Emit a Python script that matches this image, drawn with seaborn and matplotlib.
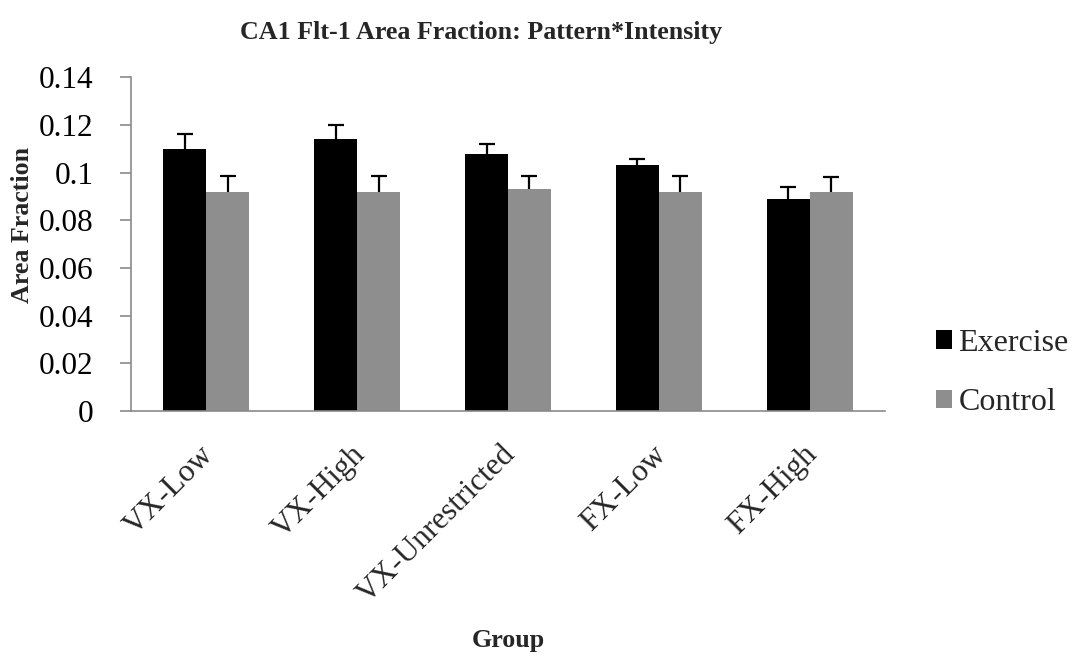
import matplotlib
matplotlib.use("Agg")
import matplotlib.pyplot as plt
import matplotlib.transforms as mtransforms
import seaborn as sns
import pandas as pd
import numpy as np

groups = ["VX-Low", "VX-High", "VX-Unrestricted", "FX-Low", "FX-High"]
exercise = [0.110, 0.114, 0.108, 0.103, 0.089]
control = [0.092, 0.092, 0.093, 0.092, 0.092]
exercise_err = [0.0064, 0.0061, 0.0041, 0.0028, 0.0050]
control_err = [0.0067, 0.0064, 0.0057, 0.0066, 0.0063]
series = ["Exercise", "Control"]
yticks = [0, 0.02, 0.04, 0.06, 0.08, 0.1, 0.12, 0.14]
ytick_labels = ["0", "0.02", "0.04", "0.06", "0.08", "0.1", "0.12", "0.14"]

sns.set_theme(style="white")
plt.rcParams["font.family"] = ["Liberation Serif", "DejaVu Serif"]

df = pd.DataFrame({
    "Group": groups * 2,
    "Series": ["Exercise"] * len(groups) + ["Control"] * len(groups),
    "Value": exercise + control,
})
errs = {"Exercise": exercise_err, "Control": control_err}

fig = plt.figure(figsize=(10.73, 6.61), dpi=100)
ax = fig.add_axes([131 / 1073, 1 - 411 / 661, (885 - 131) / 1073, (411 - 77.3) / 661])

palette = {"Exercise": "#000000", "Control": "#8e8e8e"}
sns.barplot(data=df, x="Group", y="Value", hue="Series", hue_order=series,
            order=groups, palette=palette, width=0.57, gap=0, errorbar=None,
            saturation=1, ax=ax, legend=True, linewidth=0)

# upward-only error bars, positioned from the bar containers
cap_half = 0.053
for cont, s in zip(ax.containers, series):
    xs = np.array([p.get_x() + p.get_width() / 2 for p in cont.patches])
    hs = np.array([p.get_height() for p in cont.patches])
    tops = hs + np.array(errs[s])
    ax.vlines(xs, hs, tops, colors="black", linewidth=1.6, zorder=5)
    ax.hlines(tops, xs - cap_half, xs + cap_half, colors="black", linewidth=1.6, zorder=5)

ax.set_xlim(-0.5, len(groups) - 0.5)
ax.set_ylim(0, 0.14)
ax.set_yticks(yticks)
ax.set_yticklabels(ytick_labels, fontsize=22.5)
ax.set_xlabel("")
ax.set_ylabel("")

for side in ["top", "right"]:
    ax.spines[side].set_visible(False)
for side in ["left", "bottom"]:
    ax.spines[side].set_color("#8a8a8a")
    ax.spines[side].set_linewidth(1.2)
ax.tick_params(axis="y", which="major", left=True, length=8, width=1.2,
               color="#8a8a8a", pad=19, labelcolor="black")
ax.tick_params(axis="x", bottom=False, length=0, pad=21)

ax.set_xticks(range(len(groups)))
ax.set_xticklabels(groups, rotation=45, ha="right", va="top",
                   rotation_mode="anchor", fontsize=22.5)
shift = mtransforms.ScaledTranslation(-7 / 100, 0, fig.dpi_scale_trans)
for lbl in ax.get_xticklabels():
    lbl.set_transform(lbl.get_transform() + shift)

handles, labels = ax.get_legend_handles_labels()
ax.legend(handles, labels, loc="center left", frameon=False,
          bbox_to_anchor=(936 / 1073, 1 - 373 / 661), bbox_transform=fig.transFigure,
          fontsize=23, handlelength=0.5, handleheight=0.5, handletextpad=0.2,
          labelspacing=0.95, borderaxespad=0, borderpad=0)

fig.text(481 / 1073, 1 - 32 / 661, "CA1 Flt-1 Area Fraction: Pattern*Intensity",
         ha="center", va="center", fontsize=18.7, fontweight="bold")
fig.text(508 / 1073, 1 - 641 / 661, "Group", ha="center", va="center",
         fontsize=18.7, fontweight="bold")
fig.text(23 / 1073, 1 - 225 / 661, "Area Fraction", ha="center", va="center",
         rotation=90, fontsize=18.7, fontweight="bold")

fig.savefig("out.png", dpi=100, facecolor="white")
